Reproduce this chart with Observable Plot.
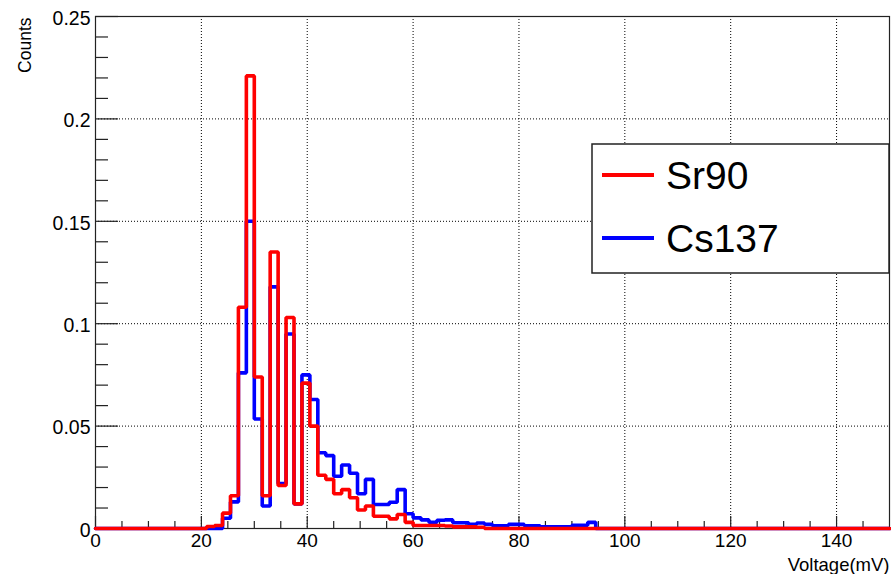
<!DOCTYPE html>
<html>
<head>
<meta charset="utf-8">
<script src="https://cdn.jsdelivr.net/npm/d3@7"></script>
<script src="https://cdn.jsdelivr.net/npm/@observablehq/plot@0.6"></script>
<style>
  html, body { margin: 0; padding: 0; background: #fff; }
  #chart { width: 891px; height: 574px; }
</style>
</head>
<body>
<div id="chart"></div>
<script>
// Histogram binning (ROOT-style: 100 bins over 0–150 mV)
const binLow = 0;
const binWidth = 1.5;

// Normalised counts per bin
const sr90 = [
  0, 0, 0, 0, 0, 0, 0, 0, 0, 0,
  0, 0, 0, 0, 0.001, 0.0015, 0.0075, 0.016, 0.108, 0.221,
  0.074, 0.016, 0.135, 0.021, 0.103, 0.012, 0.071, 0.050, 0.026, 0.024,
  0.017, 0.019, 0.015, 0.009, 0.011, 0.006, 0.006, 0.0047, 0.0068, 0.003,
  0.0015, 0.0015, 0.0015, 0.0015, 0.0012, 0.0008, 0.0008, 0.0008, 0.0006, 0,
  0, 0, 0, 0, 0, 0, 0, 0, 0, 0,
  0, 0, 0, 0, 0, 0, 0, 0, 0, 0,
  0, 0, 0, 0, 0, 0, 0, 0, 0, 0,
  0, 0, 0, 0, 0, 0, 0, 0, 0, 0,
  0, 0, 0, 0, 0, 0, 0, 0, 0, 0
];
const cs137 = [
  0, 0, 0, 0, 0, 0, 0, 0, 0, 0,
  0, 0, 0, 0, 0, 0, 0.005, 0.013, 0.076, 0.150,
  0.0535, 0.011, 0.118, 0.022, 0.095, 0.012, 0.075, 0.063, 0.037, 0.0356,
  0.0255, 0.031, 0.027, 0.017, 0.024, 0.0117, 0.0117, 0.0128, 0.019, 0.0072,
  0.0052, 0.0042, 0.003, 0.004, 0.0042, 0.0028, 0.0028, 0.002, 0.0027, 0.002,
  0.0013, 0.0013, 0.002, 0.002, 0.0013, 0.0013, 0.0008, 0.0008, 0.0008, 0.0008,
  0.0016, 0.0016, 0.003, 0, 0, 0, 0, 0, 0, 0,
  0, 0, 0, 0, 0, 0, 0, 0, 0, 0,
  0, 0, 0, 0, 0, 0, 0, 0, 0, 0,
  0, 0, 0, 0, 0, 0, 0, 0, 0, 0
];

const seriesNames = ["Sr90", "Cs137"];
const seriesColors = ["#ff0000", "#0000ff"];

// Axes
const xDomain = [0, 150];
const yDomain = [0, 0.25];
const xTicks = [0, 20, 40, 60, 80, 100, 120, 140];
const xTickLabels = ["0", "20", "40", "60", "80", "100", "120", "140"];
const yTicks = [0, 0.05, 0.1, 0.15, 0.2, 0.25];
const yTickLabels = ["0", "0.05", "0.1", "0.15", "0.2", "0.25"];
const xGrid = [20, 40, 60, 80, 100, 120, 140];
const yGrid = [0.05, 0.1, 0.15, 0.2];
const xMinor = d3.range(0, 150, 5).filter(v => v % 20 !== 0);
const yMinor = d3.range(0, 26).map(i => i / 100).filter(v => Math.round(v * 100) % 5 !== 0);
const xTitle = "Voltage(mV)";
const yTitle = "Counts";

// Build step data (bin low edges + closing edge)
function steps(values, name) {
  const pts = values.map((v, i) => ({x: binLow + i * binWidth, y: v, s: name}));
  pts.push({x: binLow + values.length * binWidth, y: values[values.length - 1], s: name});
  return pts;
}
const sr90Steps = steps(sr90, seriesNames[0]);
const cs137Steps = steps(cs137, seriesNames[1]);

const W = 891, H = 574;
const mL = 95, mR = 2, mT = 16, mB = 46;
const fw = W - mL - mR, fh = H - mT - mB;
const font = "'Liberation Sans', Arial, Helvetica, sans-serif";

const plot = Plot.plot({
  width: W,
  height: H,
  marginLeft: mL,
  marginRight: mR,
  marginTop: mT,
  marginBottom: mB,
  x: {domain: xDomain, axis: null},
  y: {domain: yDomain, axis: null},
  style: {background: "white", fontFamily: font, overflow: "visible"},
  marks: [
    Plot.gridX(xGrid, {stroke: "black", strokeOpacity: 1, strokeWidth: 1, strokeDasharray: "1,2"}),
    Plot.gridY(yGrid, {stroke: "black", strokeOpacity: 1, strokeWidth: 1, strokeDasharray: "1,2"}),
    Plot.frame({stroke: "#222", strokeWidth: 1.2}),
    // ticks drawn inside the frame (ROOT style)
    Plot.ruleX(xTicks, {x: d => d, stroke: "#222", strokeWidth: 1.2, insetTop: fh - 12}),
    Plot.ruleX(xMinor, {x: d => d, stroke: "#222", strokeWidth: 1.2, insetTop: fh - 7}),
    Plot.ruleY(yTicks, {y: d => d, stroke: "#222", strokeWidth: 1.2, insetRight: fw - 23}),
    Plot.ruleY(yMinor, {y: d => d, stroke: "#222", strokeWidth: 1.2, insetRight: fw - 13}),
    // histograms
    Plot.line(cs137Steps, {x: "x", y: "y", curve: "step-after", stroke: seriesColors[1], strokeWidth: 3.6, strokeLinejoin: "miter"}),
    Plot.line(sr90Steps, {x: "x", y: "y", curve: "step-after", stroke: seriesColors[0], strokeWidth: 3.6, strokeLinejoin: "miter"}),
    // tick labels
    Plot.text(xTicks, {x: d => d, text: (d, i) => xTickLabels[i], frameAnchor: "bottom", dy: 12, lineAnchor: "middle", textAnchor: "middle", fontSize: 19, fill: "black"}),
    Plot.text(yTicks, {y: d => d, text: (d, i) => yTickLabels[i], frameAnchor: "left", dx: -5, dy: 2, lineAnchor: "middle", textAnchor: "end", fontSize: 19.5, fill: "black"}),
    // axis titles
    Plot.text([xTitle], {text: d => d, frameAnchor: "bottom-right", dy: 42, lineAnchor: "bottom", textAnchor: "end", fontSize: 18.5, fill: "black"}),
    Plot.text([yTitle], {text: d => d, frameAnchor: "top-left", dx: -70, dy: 1, rotate: -90, lineAnchor: "middle", textAnchor: "end", fontSize: 17.5, fill: "black"})
  ]
});

document.getElementById("chart").appendChild(plot);

// Legend box (ROOT TLegend style), drawn into the same SVG
const svg = d3.select(plot);
const lg = svg.append("g").attr("font-family", font).attr("text-anchor", "start");
const lx = 592, ly = 144, lw = 297, lh = 129;
lg.append("rect").attr("x", lx).attr("y", ly).attr("width", lw).attr("height", lh)
  .attr("fill", "white").attr("stroke", "#222").attr("stroke-width", 1.5);
seriesNames.forEach((name, i) => {
  const cy = ly + 31 + i * 63;
  lg.append("line").attr("x1", lx + 10).attr("x2", lx + 62).attr("y1", cy).attr("y2", cy)
    .attr("stroke", seriesColors[i]).attr("stroke-width", 4);
  lg.append("text").attr("x", lx + 74).attr("y", cy + 14).attr("font-size", 39)
    .attr("text-anchor", "start").attr("fill", "black").text(name);
});
</script>
</body>
</html>
